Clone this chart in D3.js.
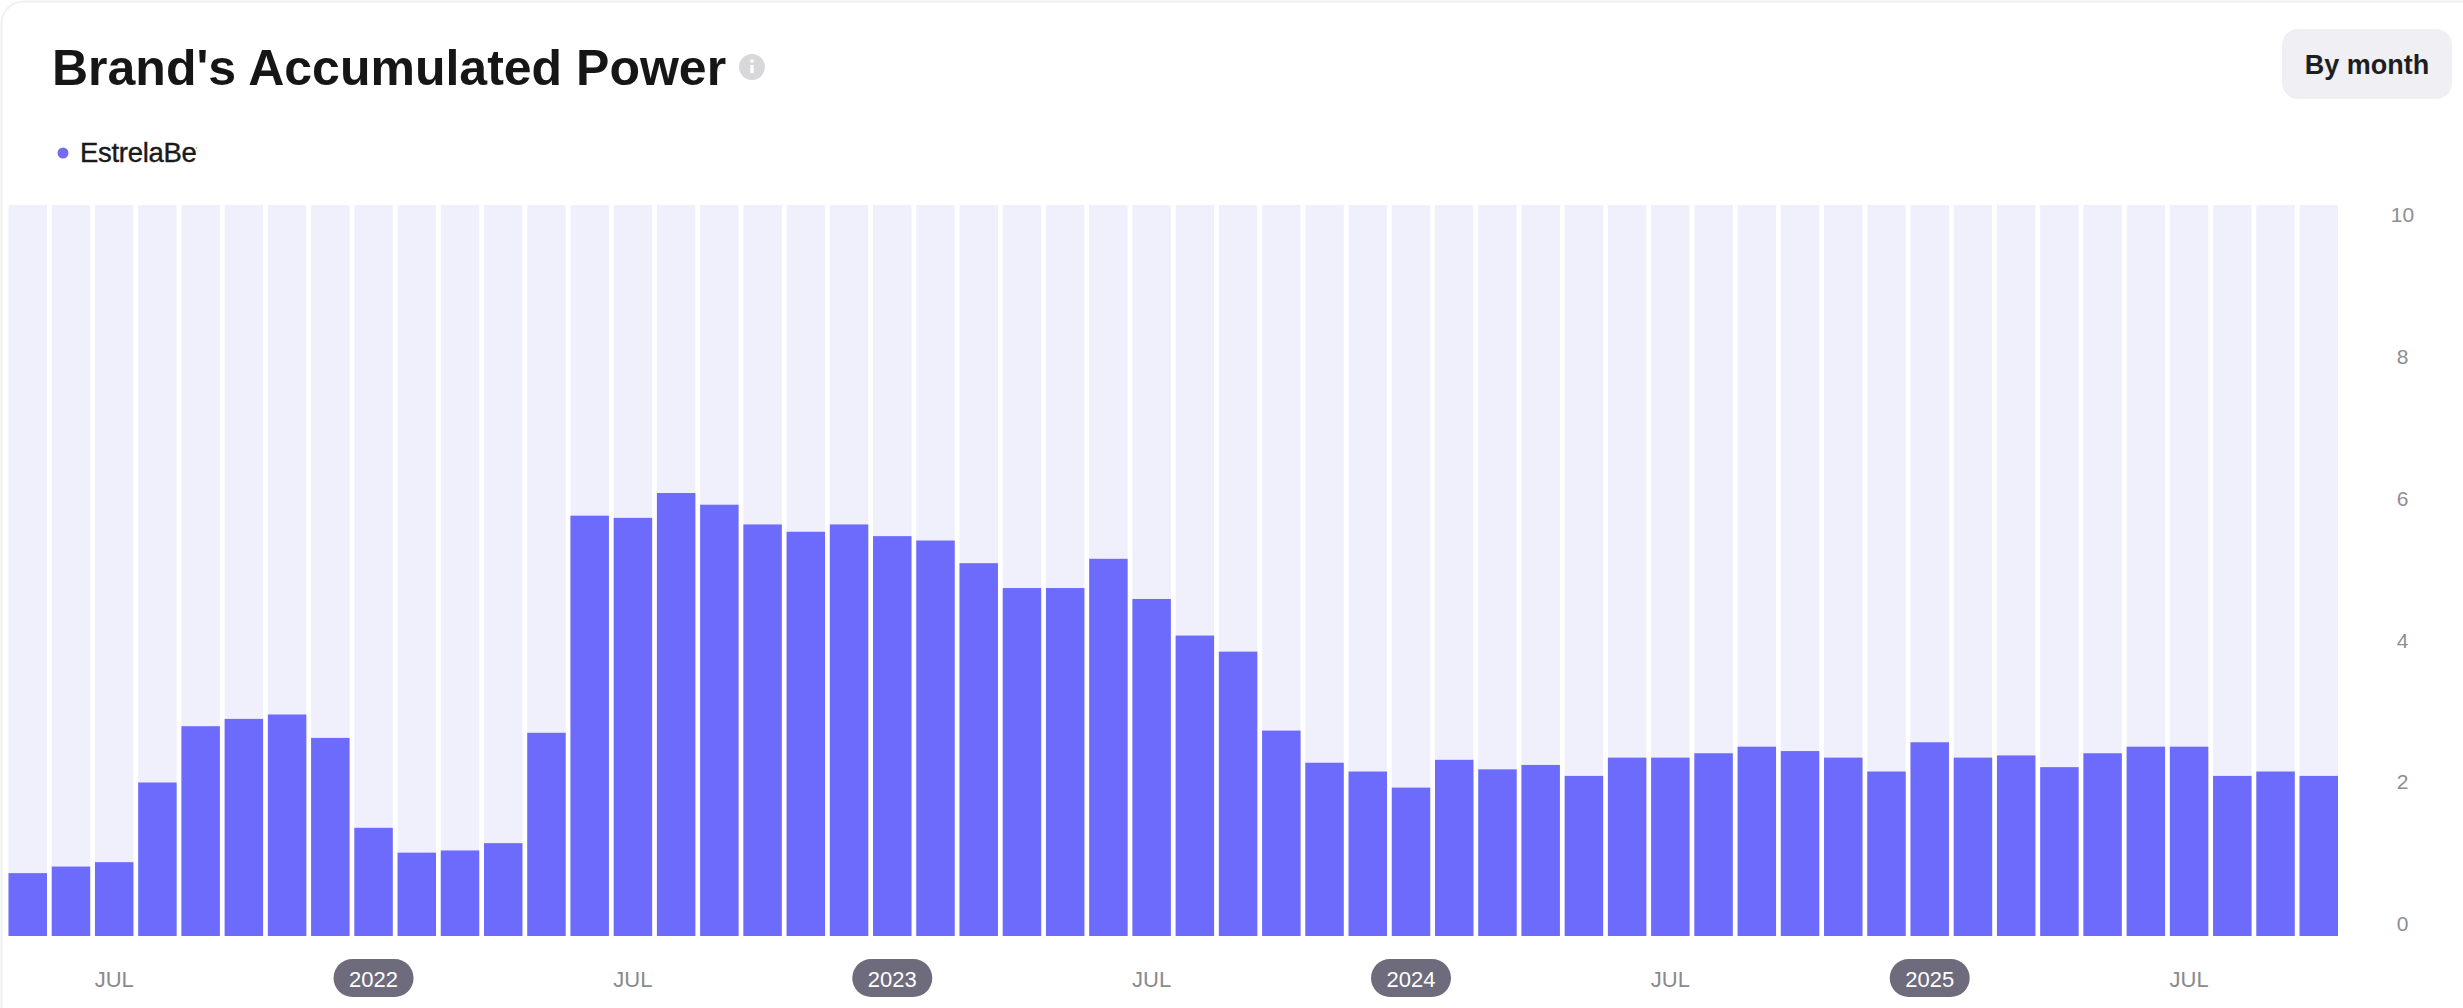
<!DOCTYPE html>
<html>
<head>
<meta charset="utf-8">
<script src="https://cdn.jsdelivr.net/npm/d3@7"></script>
<style>
  html, body { margin: 0; padding: 0; background: #ffffff; }
  svg { display: block; }
  text { font-family: "Liberation Sans", Arial, sans-serif; }
</style>
</head>
<body>
<svg id="chart" width="2463" height="1008"></svg>
<script>
// Monthly "accumulated power" for the brand, May 2021 – Oct 2025
const months = [
  "2021-05","2021-06","2021-07","2021-08","2021-09","2021-10","2021-11","2021-12",
  "2022-01","2022-02","2022-03","2022-04","2022-05","2022-06","2022-07","2022-08","2022-09","2022-10","2022-11","2022-12",
  "2023-01","2023-02","2023-03","2023-04","2023-05","2023-06","2023-07","2023-08","2023-09","2023-10","2023-11","2023-12",
  "2024-01","2024-02","2024-03","2024-04","2024-05","2024-06","2024-07","2024-08","2024-09","2024-10","2024-11","2024-12",
  "2025-01","2025-02","2025-03","2025-04","2025-05","2025-06","2025-07","2025-08","2025-09","2025-10"
];
const power = [
  0.86, 0.95, 1.01, 2.10, 2.87, 2.97, 3.03, 2.71,
  1.48, 1.14, 1.17, 1.27, 2.78, 5.75, 5.72, 6.06, 5.90, 5.63, 5.53, 5.63,
  5.47, 5.41, 5.10, 4.76, 4.76, 5.16, 4.61, 4.11, 3.89, 2.81, 2.37, 2.25,
  2.03, 2.41, 2.28, 2.34, 2.19, 2.44, 2.44, 2.50, 2.59, 2.53, 2.44, 2.25,
  2.65, 2.44, 2.47, 2.31, 2.50, 2.59, 2.59, 2.19, 2.25, 2.19
];
const yTicks = [0, 2, 4, 6, 8, 10];
const seriesName = "EstrelaBet";
const chartTitle = "Brand's Accumulated Power";
const periodLabel = "By month";

const svg = d3.select("#chart");

// card outline
svg.append("rect")
  .attr("x", 1.5).attr("y", 1.5)
  .attr("width", 2520).attr("height", 1060)
  .attr("rx", 22)
  .attr("fill", "#ffffff")
  .attr("stroke", "#f0f0f2")
  .attr("stroke-width", 2);

// header
svg.append("text")
  .attr("x", 52).attr("y", 85)
  .attr("font-size", 50).attr("font-weight", 700)
  .attr("fill", "#161616")
  .text(chartTitle);

const info = svg.append("g").attr("transform", "translate(752,67)");
info.append("circle").attr("r", 13).attr("fill", "#d8d8da");
info.append("rect").attr("x", -1.6).attr("y", -2).attr("width", 3.2).attr("height", 8).attr("fill", "#ffffff");
info.append("circle").attr("cy", -6).attr("r", 1.8).attr("fill", "#ffffff");

// period switch
const btn = svg.append("g");
btn.append("rect")
  .attr("x", 2282).attr("y", 29).attr("width", 170).attr("height", 70)
  .attr("rx", 16).attr("fill", "#efeff4");
btn.append("text")
  .attr("x", 2367).attr("y", 74)
  .attr("text-anchor", "middle")
  .attr("font-size", 27).attr("font-weight", 700)
  .attr("fill", "#1e1e22")
  .text(periodLabel);

// legend (name clipped by its container)
svg.append("clipPath").attr("id", "legendClip")
  .append("rect").attr("x", 40).attr("y", 130).attr("width", 157).attr("height", 50);
svg.append("circle").attr("cx", 63).attr("cy", 153).attr("r", 5.5).attr("fill", "#746cf0");
svg.append("text")
  .attr("clip-path", "url(#legendClip)")
  .attr("x", 80).attr("y", 162)
  .attr("font-size", 27.5).attr("font-weight", 400)
  .attr("fill", "#1a1a1a")
  .attr("stroke", "#1a1a1a").attr("stroke-width", 0.4)
  .style("letter-spacing", "-0.3px")
  .text(seriesName);

// scales
const plotTop = 205, plotBottom = 936, plotLeft = 8.5, plotRight = 2338;
const x = d3.scaleBand().domain(months).range([plotLeft, plotRight]).paddingInner(0.11).paddingOuter(0);
const y = d3.scaleLinear().domain([0, 10]).range([plotBottom, plotTop]);
// tick labels sit inside the plot band, inset from its edges
const yLabel = y.copy().range([924, 215]);

// column backgrounds
svg.append("g").selectAll("rect").data(months).join("rect")
  .attr("x", d => x(d)).attr("y", plotTop)
  .attr("width", x.bandwidth()).attr("height", plotBottom - plotTop)
  .attr("fill", "#f0f0fc");

// bars
svg.append("g").selectAll("rect").data(months).join("rect")
  .attr("x", d => x(d))
  .attr("y", (d, i) => y(power[i]))
  .attr("width", x.bandwidth())
  .attr("height", (d, i) => y(0) - y(power[i]))
  .attr("fill", "#6c6bfb");

// y axis on the right
const yAxis = svg.append("g")
  .attr("transform", "translate(2390,0)")
  .call(d3.axisRight(yLabel).tickValues(yTicks).tickSize(0).tickPadding(0));
yAxis.select(".domain").remove();
yAxis.selectAll("text")
  .attr("x", 12.5)
  .attr("text-anchor", "middle")
  .attr("font-size", 21)
  .attr("font-family", "\"Liberation Sans\", Arial, sans-serif")
  .attr("fill", "#8e8e93");

// x axis: JUL for mid-year, year pills for January
const xTickMonths = months.filter(m => m.endsWith("-01") || m.endsWith("-07"));
const xAxis = svg.append("g")
  .attr("transform", `translate(0,${plotBottom})`)
  .call(d3.axisBottom(x).tickValues(xTickMonths).tickSize(0).tickPadding(0)
    .tickFormat(m => m.endsWith("-07") ? "JUL" : m.slice(0, 4)));
xAxis.select(".domain").remove();
xAxis.selectAll(".tick").each(function(m) {
  const g = d3.select(this);
  const isYear = m.endsWith("-01");
  if (isYear) {
    g.insert("rect", "text")
      .attr("x", -40).attr("y", 23).attr("width", 80).attr("height", 38)
      .attr("rx", 19).attr("fill", "#6d6b7c");
  }
  g.select("text")
    .attr("y", 51).attr("dy", null)
    .attr("font-size", 22)
    .attr("font-family", "\"Liberation Sans\", Arial, sans-serif")
    .attr("fill", isYear ? "#ffffff" : "#8a8a8e");
});
</script>
</body>
</html>
